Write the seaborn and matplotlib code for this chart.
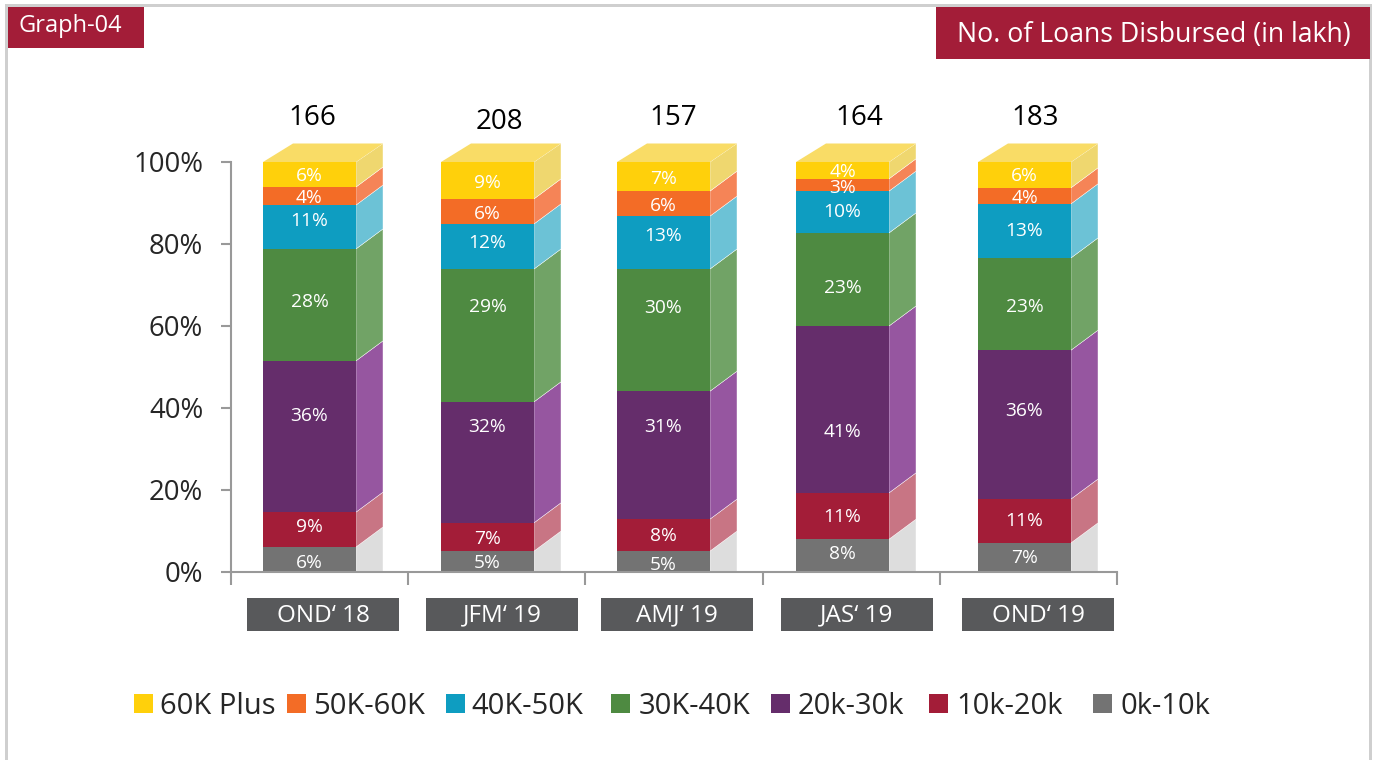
import pandas as pd
import matplotlib
matplotlib.use('Agg')
import matplotlib.pyplot as plt
from matplotlib.patches import Polygon, Rectangle
import seaborn as sns

# dados
quarters = ['OND‘ 18', 'JFM‘ 19', 'AMJ‘ 19', 'JAS‘ 19', 'OND‘ 19']
totals = [166, 208, 157, 164, 183]
bands = ['0k-10k', '10k-20k', '20k-30k', '30K-40K', '40K-50K', '50K-60K', '60K Plus']

# altura de cada segmento, medida no grafico
h_0_10 = [6.1, 5.1, 5.1, 8.0, 7.1]
h_10_20 = [8.5, 6.9, 7.8, 11.3, 10.7]
h_20_30 = [36.9, 29.5, 31.2, 40.7, 36.3]
h_30_40 = [27.3, 32.4, 29.8, 22.7, 22.5]
h_40_50 = [10.7, 11.0, 12.9, 10.2, 13.2]
h_50_60 = [4.4, 6.1, 6.1, 3.0, 3.9]
h_60_up = [6.1, 9.0, 7.1, 4.1, 6.3]
heights = [h_0_10, h_10_20, h_20_30, h_30_40, h_40_50, h_50_60, h_60_up]

# rotulos impressos em cada segmento
l_0_10 = [6, 5, 5, 8, 7]
l_10_20 = [9, 7, 8, 11, 11]
l_20_30 = [36, 32, 31, 41, 36]
l_30_40 = [28, 29, 30, 23, 23]
l_40_50 = [11, 12, 13, 10, 13]
l_50_60 = [4, 6, 6, 3, 4]
l_60_up = [6, 9, 7, 4, 6]
labels = [l_0_10, l_10_20, l_20_30, l_30_40, l_40_50, l_50_60, l_60_up]

# os rotulos nao ficam no meio do segmento: linha (pixel) de cada um
label_rows = [
    [563, 563, 565, 554, 558],
    [527, 539, 536, 517, 521],
    [416, 427, 427, 432, 411],
    [302, 307, 308, 288, 307],
    [221, 243, 236, 212, 231],
    [198, 214, 206, 188, 198],
    [176, 183, 179, 172, 176],
]

front = ['#737373', '#A31D38', '#652D6B', '#4E8A41', '#0E9DC1', '#F36C26', '#FFD00B']
side = ['#DDDDDD', '#C87584', '#9656A0', '#71A366', '#6CC2D6', '#F58457', '#EFD76F']
top_color = '#F9DC66'
red = '#A31D38'
dark = '#58595B'

sns.set_style('white')
plt.rcParams['font.family'] = ['Open Sans', 'DejaVu Sans']

W, H = 1377, 760
fig = plt.figure(figsize=(W / 100, H / 100), dpi=100)
ax = fig.add_axes([231 / W, (H - 572) / H, 886 / W, 410 / H])
ax.patch.set_alpha(0)


def px_box(x0, y0, x1, y1, color, **kw):
    fig.add_artist(Rectangle((x0 / W, 1 - y1 / H), (x1 - x0) / W, (y1 - y0) / H,
                             transform=fig.transFigure, facecolor=color,
                             edgecolor='none', **kw))


def px_text(x, y, s, **kw):
    fig.text(x / W, 1 - y / H, s, va='center', **kw)


# moldura
px_box(5, 4, 8, 760, '#CFCFCF')
px_box(5, 4, 1372, 7, '#CFCFCF')
px_box(1369, 4, 1372, 760, '#CFCFCF')

# cabecalhos
px_box(8, 7, 144, 48, red)
px_text(18, 26, 'Graph-04', color='white', fontsize=17)
px_box(936, 7, 1370, 59, red)
px_text(957, 34.5, 'No. of Loans Disbursed (in lakh)', color='white', fontsize=19.2)

# barras frontais empilhadas
px_per_cat = 886 / 5
px_per_pct = 410 / 100
bar_w = 93 / px_per_cat
dx = 27 / px_per_cat
dy = 20 / px_per_pct
top_dy = 18.5 / px_per_pct
left_px = [263, 441, 617, 796, 978]
lefts = [(p - 231) / px_per_cat - 0.5 for p in left_px]

bottoms = [0, 0, 0, 0, 0]
for k in range(len(bands)):
    df = pd.DataFrame({'quarter': quarters, 'share': heights[k]})
    n_before = len(ax.patches)
    sns.barplot(data=df, x='quarter', y='share', color=front[k], saturation=1,
                width=bar_w, bottom=bottoms, edgecolor='none', linewidth=0,
                ax=ax, zorder=3)
    for i, bar in enumerate(ax.patches[n_before:]):
        bar.set_x(lefts[i])
        y0 = bottoms[i]
        y1 = y0 + heights[k][i]
        xr = lefts[i] + bar_w
        # face lateral
        back_low = y0 + dy if k > 0 else 0
        back_high = y1 + (top_dy if k == len(bands) - 1 else dy)
        ax.add_patch(Polygon([(xr, y0), (xr, y1), (xr + dx, back_high), (xr + dx, back_low)],
                             closed=True, facecolor=side[k], edgecolor='white',
                             linewidth=0.3, clip_on=False, zorder=2))
        ax.text(lefts[i] + bar_w / 2, (572 - label_rows[k][i]) / px_per_pct,
                f'{labels[k][i]}%', color='white', ha='center', va='center',
                fontsize=13.8, zorder=5)
    bottoms = [b + v for b, v in zip(bottoms, heights[k])]

# tampa de cima e total
total_off = [3, 12, 10, 17, 11]
total_y = [110.7, 109.7, 110.7, 110.7, 110.7]
for i in range(len(quarters)):
    xl = lefts[i]
    xr = xl + bar_w
    ax.add_patch(Polygon([(xl, 100), (xl + 30 / px_per_cat, 100 + top_dy), (xr + dx, 100 + top_dy), (xr, 100)],
                         closed=True, facecolor=top_color, edgecolor='none',
                         clip_on=False, zorder=2))
    ax.text(xl + bar_w / 2 + total_off[i] / px_per_cat, total_y[i], str(totals[i]),
            color='black', ha='center', va='center', fontsize=20)

# eixos
ax.set_xlim(-0.5, 4.5)
ax.set_ylim(0, 100)
ax.set_xlabel('')
ax.set_ylabel('')
ax.set_xticks([-0.5, 0.5, 1.5, 2.5, 3.5, 4.5])
ax.set_xticklabels([])
ax.set_yticks([0, 20, 40, 60, 80, 100])
ax.set_yticklabels(['0%', '20%', '40%', '60%', '80%', '100%'], fontsize=19.8, color='#262626')
ax.tick_params(axis='x', length=9, width=1.5, color='#999999', bottom=True)
ax.tick_params(axis='y', length=7, width=1.5, color='#999999', left=True, pad=13)
sns.despine(ax=ax)
for s in ['left', 'bottom']:
    ax.spines[s].set_color('#999999')
    ax.spines[s].set_linewidth(1.5)
    ax.spines[s].set_zorder(4)

# caixas das categorias
cat_left = [247, 426, 601, 781, 962]
for i, q in enumerate(quarters):
    px_box(cat_left[i], 598, cat_left[i] + 152, 631, dark)
    px_text(cat_left[i] + 76, 615.5, q, color='white', fontsize=17.5, ha='center')

# legenda (ordem invertida, espacamento do original)
swatch_x = [134, 287, 446, 611, 771, 929, 1093]
text_x = [160, 313, 471, 639, 798, 956, 1120]
for j, k in enumerate(range(len(bands) - 1, -1, -1)):
    px_box(swatch_x[j], 694, swatch_x[j] + 19, 713, front[k])
    px_text(text_x[j], 706, bands[k], color='#262626', fontsize=21)

fig.savefig('out.png', dpi=100, facecolor='white')
